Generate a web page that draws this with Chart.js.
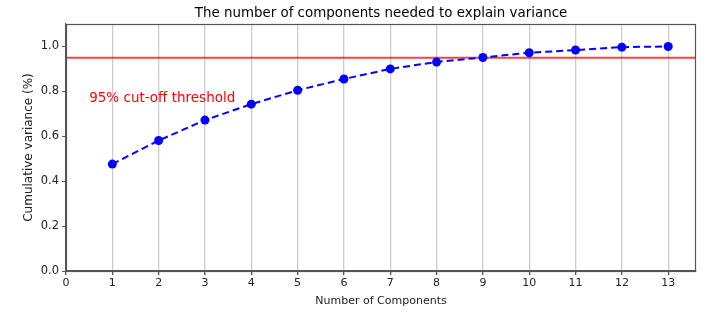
<!DOCTYPE html>
<html>
<head>
<meta charset="utf-8">
<script src="https://cdn.jsdelivr.net/npm/chart.js@4/dist/chart.umd.min.js"></script>
<style>
  html, body { margin: 0; padding: 0; background: #fff; }
  #wrap { width: 710px; height: 315px; }
</style>
</head>
<body>
<div id="wrap"><canvas id="chart" width="710" height="315"></canvas></div>
<script>
  // data
  const components = [1, 2, 3, 4, 5, 6, 7, 8, 9, 10, 11, 12, 13];
  const cumVariance = [0.476, 0.581, 0.672, 0.743, 0.805, 0.855, 0.900, 0.931, 0.951, 0.972, 0.984, 0.997, 1.0];
  const threshold = 0.95;
  const thresholdLabel = '95% cut-off threshold';
  const chartTitle = 'The number of components needed to explain variance';

  const FONT = "'DejaVu Sans', sans-serif";

  // title, threshold line, label and the top/right frame
  const extras = {
    id: 'extras',
    beforeDatasetsDraw(chart) {
      const { ctx, chartArea: a, scales } = chart;
      const y = scales.y.getPixelForValue(threshold);
      ctx.save();
      ctx.strokeStyle = 'rgba(255,0,0,0.75)';
      ctx.lineWidth = 2;
      ctx.beginPath();
      ctx.moveTo(a.left, y);
      ctx.lineTo(a.right, y);
      ctx.stroke();
      ctx.restore();
    },
    afterDraw(chart) {
      const { ctx, chartArea: a, scales } = chart;
      ctx.save();
      ctx.strokeStyle = '#555';
      ctx.lineWidth = 1.2;
      ctx.strokeRect(a.left + 0.5, a.top + 0.5, a.right - a.left - 1, a.bottom - a.top);

      ctx.fillStyle = '#000';
      ctx.font = '13.4px ' + FONT;
      ctx.textAlign = 'center';
      ctx.textBaseline = 'bottom';
      ctx.fillText(chartTitle, (a.left + a.right) / 2, a.top - 4);

      ctx.fillStyle = 'red';
      ctx.font = '13.5px ' + FONT;
      ctx.textAlign = 'left';
      ctx.textBaseline = 'middle';
      ctx.fillText(thresholdLabel, scales.x.getPixelForValue(0.5), scales.y.getPixelForValue(0.77));
      ctx.restore();
    }
  };

  new Chart(document.getElementById('chart'), {
    type: 'line',
    data: {
      datasets: [{
        data: components.map((c, i) => ({ x: c, y: cumVariance[i] })),
        borderColor: 'blue',
        backgroundColor: 'blue',
        borderWidth: 2,
        borderDash: [7, 4],
        pointRadius: 4.5,
        pointHoverRadius: 4.5,
        pointBorderWidth: 0,
        tension: 0
      }]
    },
    options: {
      responsive: false,
      animation: false,
      layout: { padding: { top: 24, right: 14, left: 18, bottom: 0 } },
      plugins: { legend: { display: false }, tooltip: { enabled: false } },
      scales: {
        x: {
          type: 'linear',
          min: 0,
          max: 13.6,
          afterFit(s) { s.height = 44; },
          border: { color: '#555', width: 1.2 },
          grid: { color: '#cccccc', lineWidth: 1.3, tickLength: 4, tickColor: '#555' },
          ticks: { stepSize: 1, includeBounds: false, color: '#222', padding: 2, font: { family: FONT, size: 11 } },
          title: { display: true, text: 'Number of Components', color: '#222', padding: { top: 0, bottom: 7 }, font: { family: FONT, size: 11 } }
        },
        y: {
          min: 0,
          max: 1.1,
          afterFit(s) { s.width = 48; },
          border: { color: '#555', width: 1.2 },
          grid: { drawOnChartArea: false, tickLength: 4, tickColor: '#555' },
          ticks: {
            stepSize: 0.2,
            includeBounds: false,
            color: '#222',
            padding: 3,
            font: { family: FONT, size: 11.5 },
            callback: v => v.toFixed(1)
          },
          title: { display: true, text: 'Cumulative variance (%)', color: '#222', padding: { top: 4, bottom: 4 }, font: { family: FONT, size: 12 } }
        }
      }
    },
    plugins: [extras]
  });
</script>
</body>
</html>
